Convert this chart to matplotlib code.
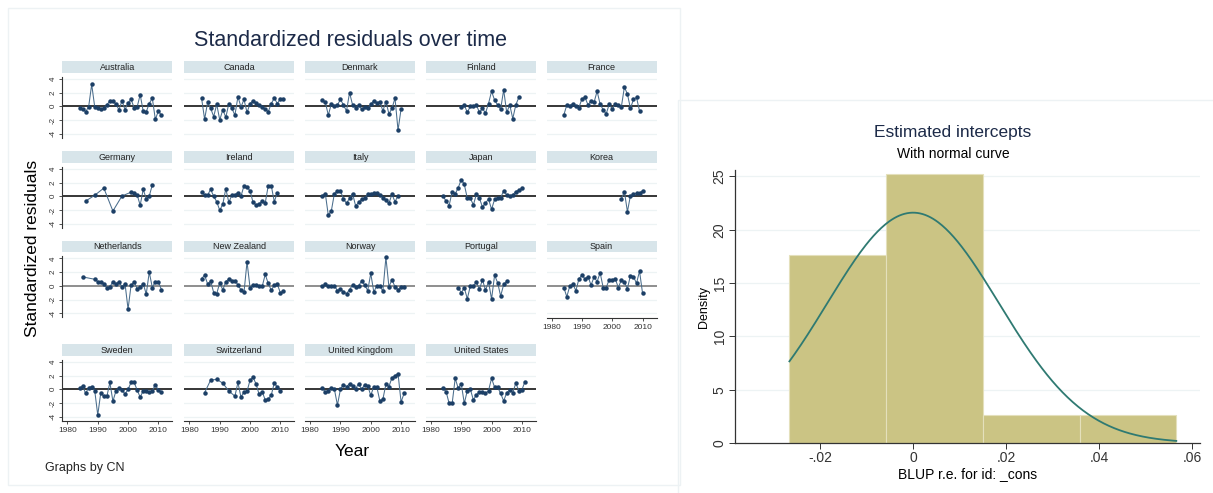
import matplotlib
matplotlib.use("Agg")
import matplotlib.pyplot as plt
from matplotlib.patches import Rectangle
import numpy as np

plt.rcParams['font.family'] = ['Liberation Sans', 'DejaVu Sans']

# ---------------- data ----------------
countries = ["Australia", "Canada", "Denmark", "Finland", "France",
             "Germany", "Ireland", "Italy", "Japan", "Korea",
             "Netherlands", "New Zealand", "Norway", "Portugal", "Spain",
             "Sweden", "Switzerland", "United Kingdom", "United States"]

years_australia = list(range(1984, 2012))
resid_australia = [-0.2, -0.35, -0.8, -0.05, 3.2, -0.1, -0.3, -0.35, -0.3, 0.2, 0.8, 0.8, 0.3, -0.5,
                   0.8, -0.5, 0.5, 1.0, -0.2, -0.1, 1.7, -0.7, -0.8, 0.4, 1.2, -1.9, -0.7, -1.3]
years_canada = list(range(1984, 2012))
resid_canada = [1.2, -1.9, 0.6, -0.3, -1.5, 0.3, -2.0, -0.5, -1.6, 0.4, -0.3, -1.3, 1.4, -0.1,
                1.0, -0.9, 0.4, 0.8, 0.5, 0.2, -0.1, -0.4, -0.8, 0.4, 1.2, 0.4, 1.1, 1.0]
years_denmark = list(range(1984, 2011))
resid_denmark = [0.9, 0.6, -1.3, 0.4, 0.1, 0.2, 1.0, 0.2, -0.7, 2.0, 0.2, -0.2, 0.2, -0.4,
                 -0.1, -0.3, 0.3, 0.8, 0.45, 0.7, -0.7, 0.7, -1.1, -0.3, 1.2, -3.5, -0.4]
years_finland = list(range(1990, 2010))
resid_finland = [-0.1, 0.2, -0.9, 0.0, 0.0, 0.2, -0.9, -0.3, -1.0, 0.4, 2.2, 0.9, 0.2, -0.4,
                 2.4, -0.9, 0.2, -1.8, 0.2, 1.3]
years_france = list(range(1984, 2010))
resid_france = [-1.3, 0.2, 0.1, 0.4, 0.05, -0.2, 1.1, 1.3, 0.2, 0.8, 0.6, 2.2, 0.3, -0.5,
                -1.1, 0.3, -0.4, 0.3, 0.2, -0.1, 2.8, 1.8, -0.3, 1.0, 1.3, -0.7]
years_germany = [1986, 1989, 1992, 1995, 1998, 2001, 2002, 2003, 2004, 2005, 2006, 2007, 2008]
resid_germany = [-0.7, 0.15, 1.2, -2.15, 0.05, 0.6, 0.55, 0.2, -1.3, 1.0, -0.35, 0.05, 1.65]
years_ireland = list(range(1984, 2010))
resid_ireland = [0.6, 0.2, 0.2, 1.0, 0.0, -0.8, -2.05, -1.15, 1.1, -0.9, 0.2, 0.2, 0.55, 0.0,
                 1.55, 1.35, 0.8, -0.9, -1.25, -1.1, -0.7, -1.0, 1.55, 1.55, -0.8, 0.55]
years_italy = list(range(1984, 2010))
resid_italy = [0.1, 0.4, -2.8, -2.1, 0.4, 0.8, 0.8, -0.4, -1.0, -0.3, 0.4, -1.4, -0.9, -0.4,
               -0.3, 0.3, 0.3, 0.5, 0.5, 0.2, -0.2, -0.6, -1.0, 0.3, -0.8, 0.1]
years_japan = list(range(1984, 2011))
resid_japan = [0.0, -0.7, -1.35, 0.7, 0.35, 1.25, 2.45, 1.75, -0.3, -0.3, -1.25, 0.3, -0.3, -1.55,
               -1.0, -0.4, -1.9, -0.45, -0.2, -0.2, 0.8, 0.2, 0.1, 0.2, 0.7, 0.9, 1.15]
years_korea = list(range(2003, 2011))
resid_korea = [-0.4, 0.7, -2.25, 0.1, 0.3, 0.45, 0.45, 0.8]
years_netherlands = [1985] + list(range(1989, 2012))
resid_netherlands = [1.3, 0.95, 0.6, 0.6, 0.3, -0.3, -0.15, 0.6, 0.3, 0.6, -0.15, 0.3, -3.4, 0.1,
                     0.55, -0.4, -0.15, 0.3, -1.2, 2.0, -0.25, 0.6, 0.6, -0.55]
years_newzealand = list(range(1984, 2012))
resid_newzealand = [1.05, 1.55, 0.25, 0.7, -1.0, -1.15, 0.45, -0.6, 0.6, 1.0, 0.75, 0.75, 0.15, -0.6,
                    -0.95, 3.5, -0.3, 0.1, 0.1, -0.1, -0.1, 1.65, 0.35, -0.65, 0.1, 0.2, -1.0, -0.8]
years_norway = list(range(1984, 2012))
resid_norway = [-0.1, 0.2, -0.1, 0.0, 0.0, -0.7, -0.5, -0.9, -1.15, -0.55, 0.1, -0.15, 0.0, 0.7,
                0.1, -0.7, 1.8, -0.9, 0.0, 0.0, -0.8, 4.15, -0.15, 0.9, -0.15, -0.55, -0.2, -0.2]
years_portugal = list(range(1989, 2006))
resid_portugal = [-0.25, -1.0, -0.3, -1.9, 0.0, 0.0, 0.5, -0.5, 0.9, -0.65, 0.6, -1.95, 1.55, 0.45,
                  -1.5, 0.2, 0.65]
years_spain = list(range(1984, 2011))
resid_spain = [-0.25, -1.6, 0.0, 0.2, -0.7, 1.0, 1.55, 1.0, 1.35, 0.1, 1.3, 0.6, 1.9, -0.25,
               -0.25, 0.9, 0.9, 1.0, -0.25, 0.85, 0.5, -0.4, 1.5, 1.35, 0.35, 2.15, -1.1]
years_sweden = list(range(1984, 2012))
resid_sweden = [0.15, 0.5, -0.6, 0.25, 0.4, -0.2, -3.75, -0.5, -1.05, -1.05, 1.0, -1.75, -0.25, 0.25,
                -0.1, -0.7, 0.0, 1.0, 1.0, -0.1, -1.15, -0.2, -0.2, -0.45, -0.2, 0.65, -0.1, -0.45]
years_switzerland = [1985, 1987, 1989, 1991, 1993, 1995, 1996, 1997, 1998, 1999, 2000,
                     2001, 2002, 2003, 2004, 2005, 2006, 2007, 2008, 2009, 2010]
resid_switzerland = [-0.5, 1.35, 1.45, 0.9, -0.25, -1.0, 1.0, -1.15, -0.35, -0.3, 1.35,
                     1.75, 0.75, -0.75, -0.35, -1.55, -1.4, -0.85, 0.95, 0.3, -0.3]
years_uk = list(range(1984, 2012))
resid_uk = [0.2, -0.4, -0.2, 0.2, 0.0, -2.3, 0.0, 0.7, 0.4, 0.8, 0.5, 0.1, 0.8, 0.0,
            0.7, 0.5, -0.9, 0.4, 0.35, -1.7, -1.45, 0.75, 0.4, 1.7, 2.0, 2.3, -1.85, -0.6]
years_us = list(range(1984, 2012))
resid_us = [0.15, -0.35, -2.05, -2.05, 1.6, 0.15, 0.8, -2.05, -0.2, 0.0, -1.55, -0.8, -0.45, -0.35,
            -0.6, -0.2, 1.6, 0.3, 0.3, -0.6, -1.7, -0.5, -0.1, -0.5, 0.9, -0.2, -0.1, 1.1]

series = [(years_australia, resid_australia), (years_canada, resid_canada),
          (years_denmark, resid_denmark), (years_finland, resid_finland),
          (years_france, resid_france), (years_germany, resid_germany),
          (years_ireland, resid_ireland), (years_italy, resid_italy),
          (years_japan, resid_japan), (years_korea, resid_korea),
          (years_netherlands, resid_netherlands), (years_newzealand, resid_newzealand),
          (years_norway, resid_norway), (years_portugal, resid_portugal),
          (years_spain, resid_spain), (years_sweden, resid_sweden),
          (years_switzerland, resid_switzerland), (years_uk, resid_uk),
          (years_us, resid_us)]

y_ticks = [-4, -2, 0, 2, 4]
x_ticks = [1980, 1990, 2000, 2010]

# histogram of BLUPs
bin_edges = [-0.0266, -0.0058, 0.0150, 0.0358, 0.0566]
bin_density = [17.6, 25.2, 2.6, 2.6]
normal_mean = 0.0
normal_sd = 0.01847
hist_xticks = [-0.02, 0.0, 0.02, 0.04, 0.06]
hist_xticklabels = ["-.02", "0", ".02", ".04", ".06"]
hist_yticks = [0, 5, 10, 15, 20, 25]

# ---------------- figure ----------------
W, H = 1213, 493
fig = plt.figure(figsize=(W / 100, H / 100), dpi=100)
fig.patch.set_facecolor("white")


def ax_px(x0, y0, x1, y1, **kw):
    return fig.add_axes([x0 / W, 1 - y1 / H, (x1 - x0) / W, (y1 - y0) / H], **kw)


# panel frames
bg = fig.add_axes([0, 0, 1, 1], zorder=-10)
bg.set_xlim(0, W)
bg.set_ylim(H, 0)
bg.axis("off")
bg.add_patch(Rectangle((8, 8), 672, 477, fill=False, ec="#edf2f4", lw=1.0))
bg.add_patch(Rectangle((678, 100), 540, 400, fill=False, ec="#edf2f4", lw=1.0))

navy_line = "#4a6d8c"
navy_mark = "#1c3f66"
grid_c = "#edf3f4"
strip_c = "#d8e5ea"

col_left = [62.3, 184.3, 305.0, 425.8, 546.5]
panel_w = 110.0
row_zero = [106.3, 196.3, 285.8, 389.3]
ppu = 6.85
ylo, yhi = -4.63, 4.86
xlo, xhi = 1978.3, 2014.6
strip_h = 11.6

for i, name in enumerate(countries):
    r, c = divmod(i, 5)
    x0 = col_left[c]
    top = row_zero[r] - yhi * ppu
    bot = row_zero[r] - ylo * ppu
    ax = ax_px(x0, top, x0 + panel_w, bot)
    ax.set_xlim(xlo, xhi)
    ax.set_ylim(ylo, yhi)
    for g in [-4, -2, 2, 4]:
        ax.axhline(g, color=grid_c, lw=0.9, zorder=0)
    zc = "#707070" if r == 2 else "black"
    ax.axhline(0, color=zc, lw=1.1, zorder=1)
    yrs, vals = series[i]
    ax.plot(yrs, vals, color=navy_line, lw=0.75, zorder=2)
    ax.plot(yrs, vals, ls="none", marker="o", ms=2.2, mfc=navy_mark, mec=navy_mark, zorder=3)
    for s in ax.spines.values():
        s.set_visible(False)
    ax.set_facecolor("none")
    if c == 0:
        ax.spines["left"].set_visible(True)
        ax.spines["left"].set_color("#333333")
        ax.spines["left"].set_linewidth(0.8)
        ax.spines["left"].set_bounds(-4.6, 4.35)
        ax.set_yticks(y_ticks)
        ax.set_yticklabels([str(t) for t in y_ticks], rotation=90, va="center", fontsize=5.8)
        ax.tick_params(axis="y", length=2.5, width=0.6, pad=1.5, colors="#333333")
    else:
        ax.set_yticks([])
    if i >= 14:
        ax.spines["bottom"].set_visible(True)
        ax.spines["bottom"].set_color("#333333")
        ax.spines["bottom"].set_linewidth(0.8)
        ax.set_xticks(x_ticks)
        ax.set_xticklabels([str(t) for t in x_ticks], fontsize=6)
        ax.tick_params(axis="x", length=2.5, width=0.6, pad=2, colors="#333333")
    else:
        ax.set_xticks([])
    sax = ax_px(x0, top - strip_h, x0 + panel_w, top - 0.3)
    sax.set_facecolor(strip_c)
    sax.set_xticks([])
    sax.set_yticks([])
    for s in sax.spines.values():
        s.set_visible(False)
    sax.text(0.5, 0.5, name, ha="center", va="center", fontsize=6.5,
             color="#222222", transform=sax.transAxes)

fig.text(350 / W, 1 - 40 / H, "Standardized residuals over time", ha="center", va="center",
         fontsize=15.5, color="#1c2a48")
fig.text(33 / W, 1 - 248 / H, "Standardized residuals", ha="center", va="center",
         rotation=90, fontsize=12.5, color="black")
fig.text(352 / W, 1 - 451 / H, "Year", ha="center", va="center", fontsize=12.5, color="black")
fig.text(45 / W, 1 - 468 / H, "Graphs by CN", ha="left", va="center", fontsize=9, color="#222222")

# ---------------- histogram ----------------
hx0, hx1, hy0, hy1 = 735, 1200, 170, 443
hax = ax_px(hx0, hy0, hx1, hy1)
hax.set_xlim(-0.0383, 0.0617)
hax.set_ylim(0, 25.6)
for g in hist_yticks[1:]:
    hax.axhline(g, color=grid_c, lw=0.9, zorder=0)
widths = np.diff(bin_edges)
hax.bar(bin_edges[:-1], bin_density, width=widths, align="edge", color="#cbc484",
        edgecolor="#e4e0bc", linewidth=0.8, zorder=2)
xs = np.linspace(bin_edges[0], bin_edges[-1], 300)
ys = np.exp(-0.5 * ((xs - normal_mean) / normal_sd) ** 2) / (normal_sd * np.sqrt(2 * np.pi))
hax.plot(xs, ys, color="#2f7a72", lw=1.3, zorder=3)
for s in ["top", "right"]:
    hax.spines[s].set_visible(False)
for s in ["left", "bottom"]:
    hax.spines[s].set_color("#333333")
    hax.spines[s].set_linewidth(0.9)
hax.set_xticks(hist_xticks)
hax.set_xticklabels(hist_xticklabels, fontsize=10)
hax.set_yticks(hist_yticks)
hax.set_yticklabels([str(t) for t in hist_yticks], rotation=90, va="center", fontsize=10)
hax.tick_params(length=4, width=0.7, colors="#333333", pad=2)
hax.set_facecolor("none")
hax.set_ylabel("Density", fontsize=9, labelpad=2)
hax.set_xlabel("BLUP r.e. for id: _cons", fontsize=10, labelpad=1)

fig.text(953 / W, 1 - 132 / H, "Estimated intercepts", ha="center", va="center",
         fontsize=12.5, color="#1c2a48")
fig.text(953 / W, 1 - 154 / H, "With normal curve", ha="center", va="center",
         fontsize=10, color="black")

fig.savefig("out.png", dpi=100, facecolor="white")
